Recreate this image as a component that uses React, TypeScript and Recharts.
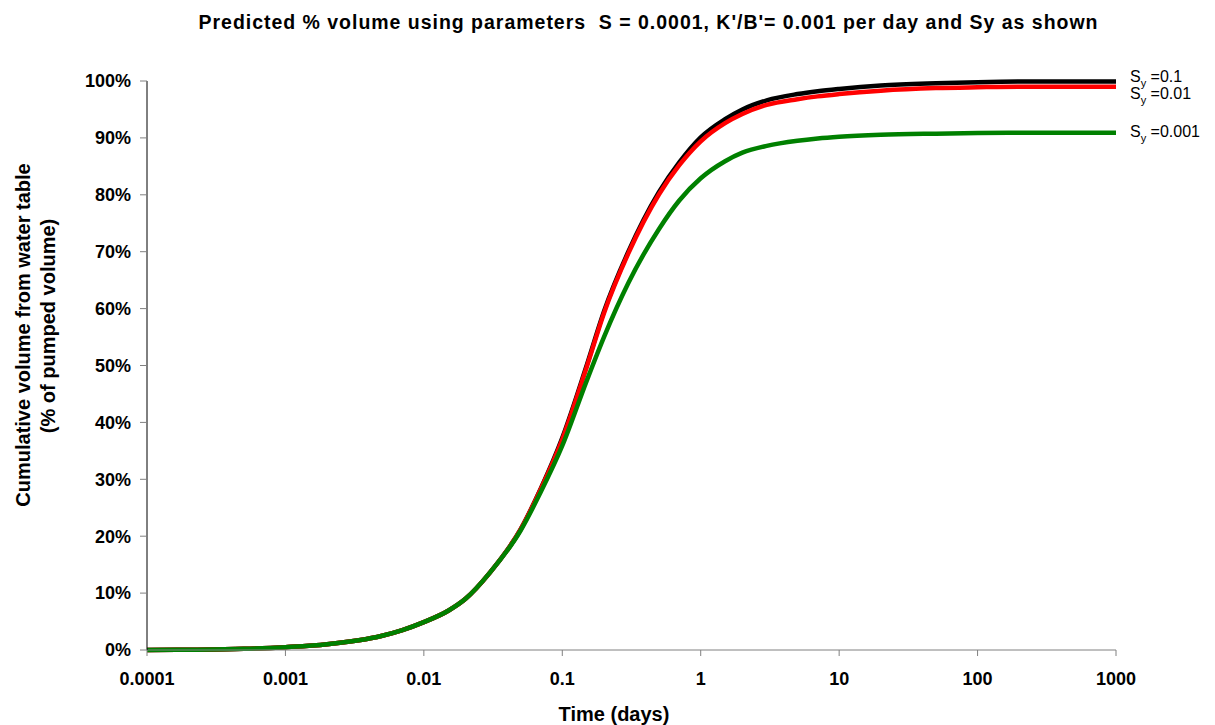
import React from 'react';
import { Line, LineChart, XAxis, YAxis } from 'recharts';

// time in days (log axis) and cumulative % of pumped volume from the water table
const times = [
  0.0001, 0.0002, 0.0005, 0.001, 0.002, 0.005, 0.007, 0.01, 0.015, 0.02, 0.03, 0.05, 0.07, 0.1, 0.15, 0.2, 0.3,
  0.5, 0.7, 1, 1.5, 2, 3, 5, 7, 10, 20, 50, 100, 200, 500, 1000
];
const sy01 = [
  0, 0.05, 0.2, 0.5, 1.0, 2.5, 3.5, 4.9, 6.9, 9.0, 13.6, 21.2, 28.4, 37.3, 50.0, 59.5, 70.0, 80.5, 85.7, 90.1,
  93.3, 95.0, 96.6, 97.7, 98.2, 98.6, 99.2, 99.6, 99.8, 99.9, 99.9, 99.9
];
const sy001 = [
  0, 0.05, 0.2, 0.5, 1.0, 2.5, 3.5, 4.9, 6.9, 9.0, 13.6, 21.2, 28.3, 37.0, 49.7, 59.2, 69.7, 80.1, 85.2, 89.4,
  92.6, 94.2, 95.8, 96.8, 97.3, 97.7, 98.3, 98.75, 98.9, 99.0, 99.0, 99.0
];
const sy0001 = [
  0, 0.05, 0.2, 0.5, 1.0, 2.5, 3.5, 4.9, 6.9, 9.0, 13.6, 21.0, 27.8, 35.9, 47.3, 55.0, 64.5, 74.0, 79.0, 82.9,
  85.9, 87.4, 88.6, 89.5, 89.9, 90.2, 90.55, 90.75, 90.85, 90.9, 90.9, 90.9
];
const xTicks = [0.0001, 0.001, 0.01, 0.1, 1, 10, 100, 1000];
const yTicks = [0, 10, 20, 30, 40, 50, 60, 70, 80, 90, 100];

const data = times.map((t, i) => ({ t, sy01: sy01[i], sy001: sy001[i], sy0001: sy0001[i] }));

const FONT = '"Liberation Sans", Arial, Helvetica, sans-serif';
const last = times.length - 1;

function endLabel(value: string, dy: number) {
  return (props: any) => {
    const { cx, cy, index } = props;
    if (index !== last) return <g key={`d-${index}`} />;
    return (
      <text key={`d-${index}`} x={cx + 14} y={cy + dy} fontFamily={FONT} fontSize={16} fill="#000">
        <tspan>S</tspan>
        <tspan dy={5} fontSize={11}>y</tspan>
        <tspan dy={-5}>{' =' + value}</tspan>
      </text>
    );
  };
}

export default function App() {
  const tickStyle = { fontFamily: FONT, fontSize: 18, fontWeight: 'bold', fill: '#000' };
  return (
    <div style={{ position: 'absolute', left: 0, top: 0, width: 1215, height: 725, background: '#fff' }}>
      <LineChart width={1215} height={725} data={data} margin={{ top: 81, right: 99, left: 0, bottom: 0 }}>
        <XAxis
          dataKey="t"
          type="number"
          scale="log"
          domain={[0.0001, 1000]}
          ticks={xTicks}
          tickFormatter={(v: number) => String(v)}
          height={75}
          tickSize={6}
          tickMargin={16}
          axisLine={{ stroke: '#808080' }}
          tickLine={{ stroke: '#808080' }}
          tick={tickStyle}
          interval={0}
        />
        <YAxis
          type="number"
          domain={[0, 100]}
          ticks={yTicks}
          tickFormatter={(v: number) => `${v}%`}
          width={147}
          tickSize={7}
          tickMargin={9}
          axisLine={{ stroke: '#000' }}
          tickLine={{ stroke: '#808080' }}
          tick={tickStyle}
          interval={0}
        />
        <Line
          dataKey="sy01"
          type="monotone"
          stroke="#000000"
          strokeWidth={4.5}
          dot={endLabel('0.1', 0)}
          activeDot={false}
          isAnimationActive={false}
        />
        <Line
          dataKey="sy001"
          type="monotone"
          stroke="#FF0000"
          strokeWidth={4.5}
          dot={endLabel('0.01', 12)}
          activeDot={false}
          isAnimationActive={false}
        />
        <Line
          dataKey="sy0001"
          type="monotone"
          stroke="#008000"
          strokeWidth={4.5}
          dot={endLabel('0.001', 4)}
          activeDot={false}
          isAnimationActive={false}
        />
      </LineChart>
      <svg
        width={1215}
        height={725}
        style={{ position: 'absolute', left: 0, top: 0, pointerEvents: 'none' }}
        fontFamily={FONT}
        fontWeight="bold"
      >
        <text
          x={648}
          y={29}
          textAnchor="middle"
          fontSize={19.5}
          textLength={899}
          lengthAdjust="spacing"
          style={{ whiteSpace: 'pre' }}
        >
          Predicted % volume using parameters  S = 0.0001, K'/B'= 0.001 per day and Sy as shown
        </text>
        <text x={614} y={721} textAnchor="middle" fontSize={20}>
          Time (days)
        </text>
        <text x={30} y={335} textAnchor="middle" fontSize={20} transform="rotate(-90 30 335)">
          Cumulative volume from water table
        </text>
        <text x={55} y={326} textAnchor="middle" fontSize={20} transform="rotate(-90 55 326)">
          (% of pumped volume)
        </text>
      </svg>
    </div>
  );
}
